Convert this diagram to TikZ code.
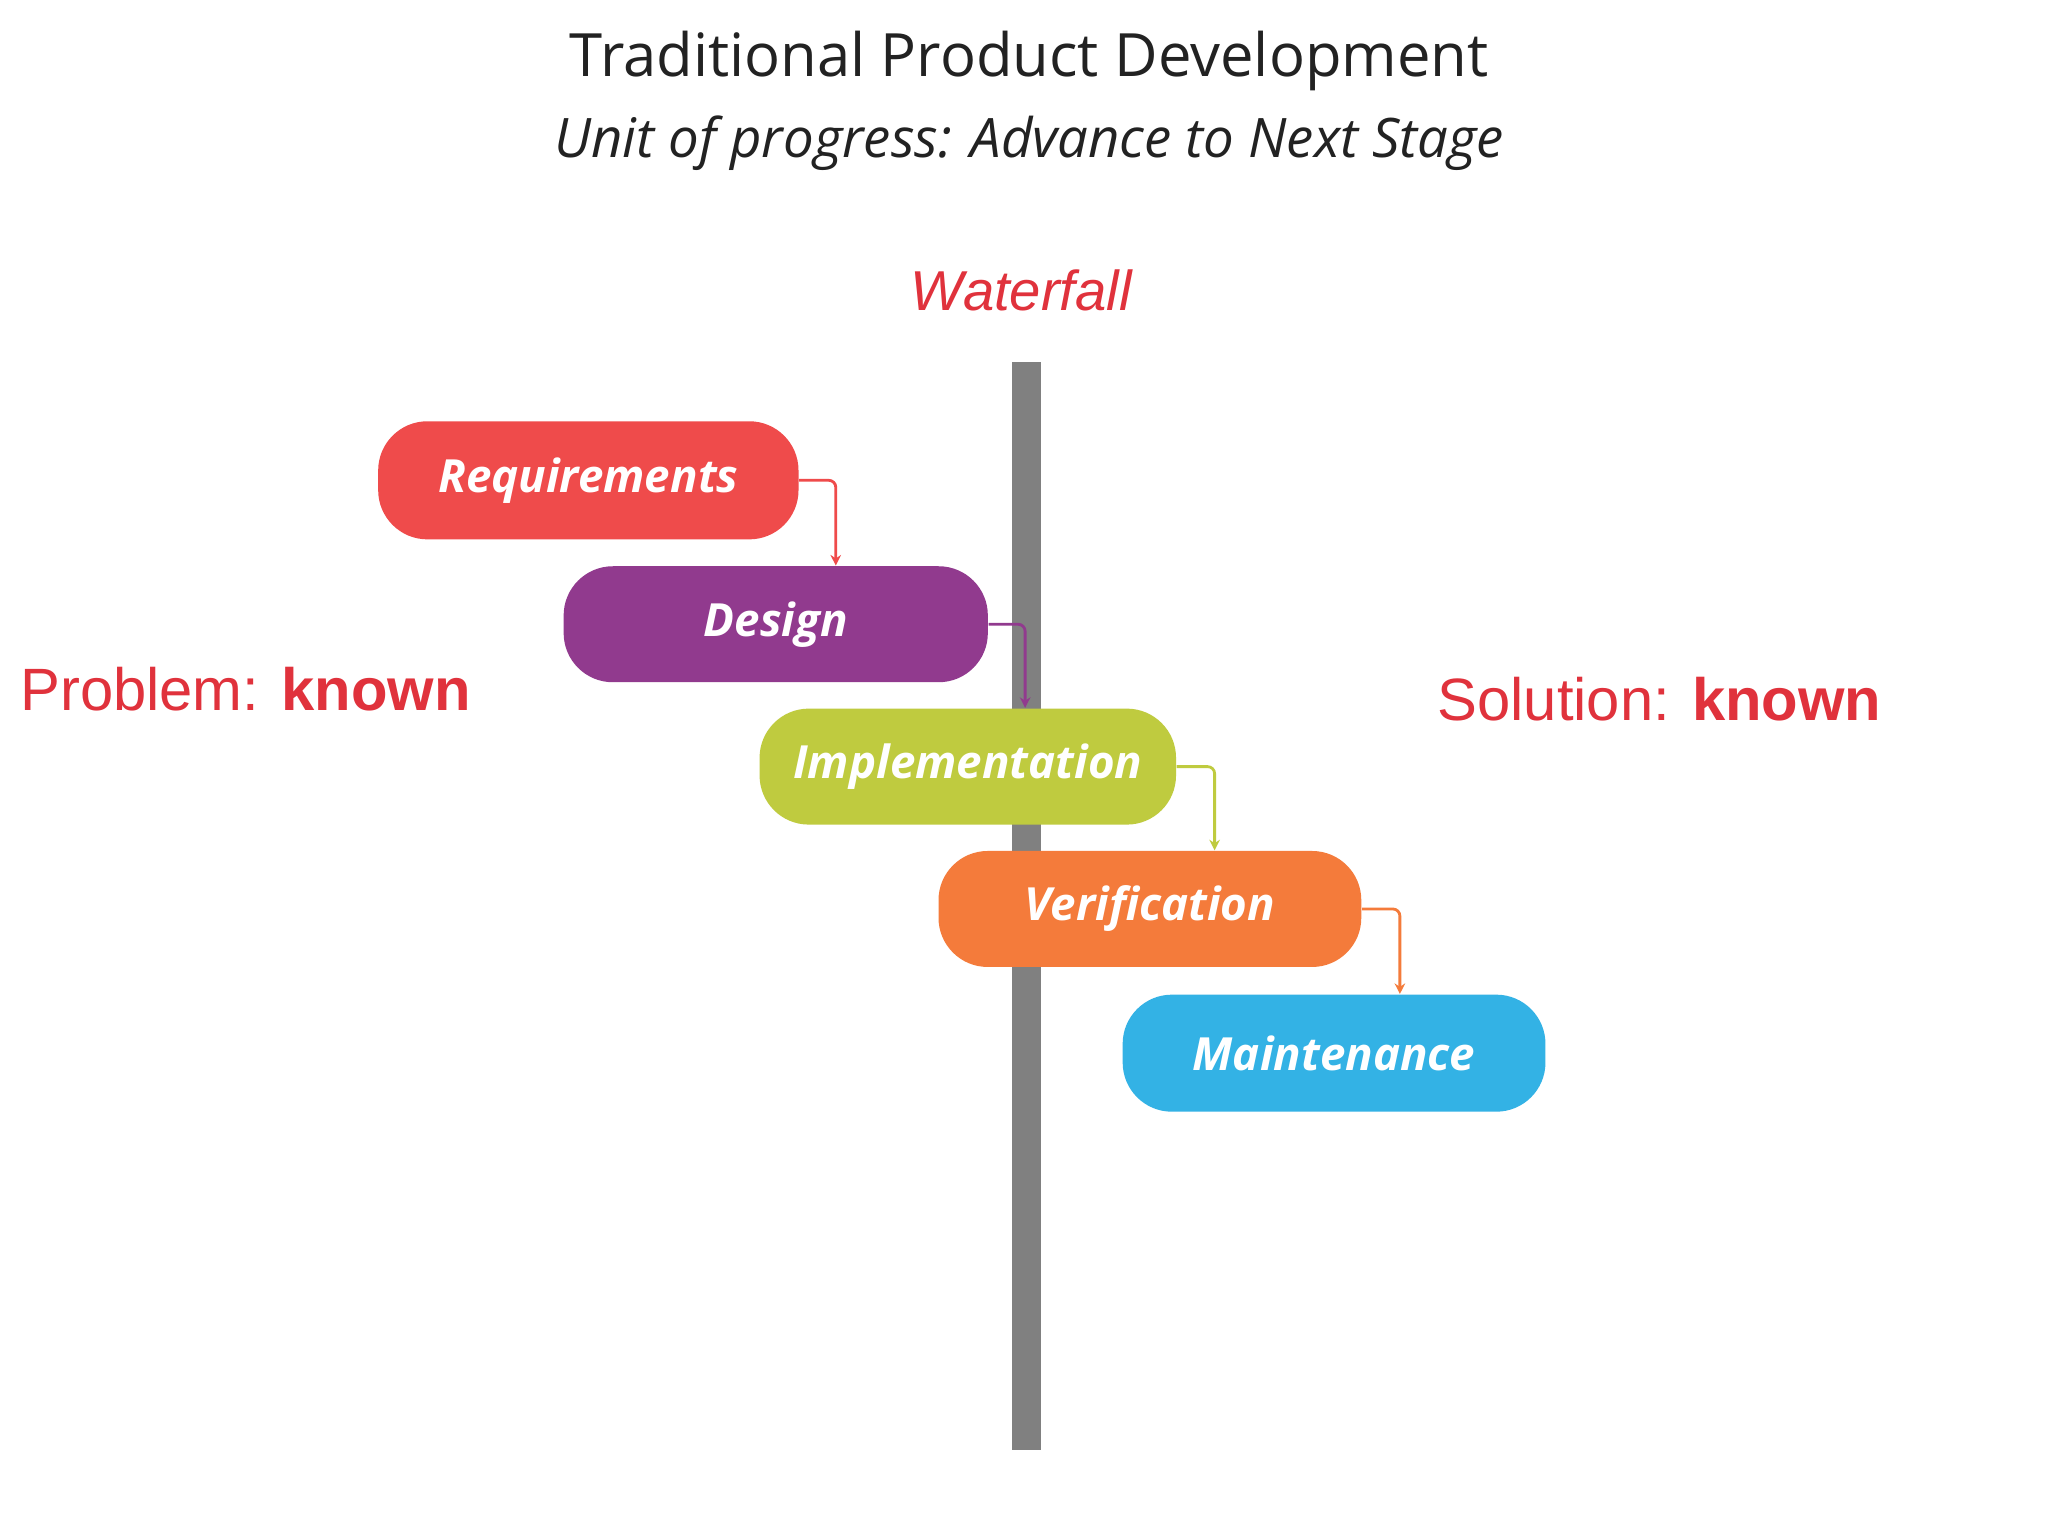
\documentclass[tikz,border=0pt]{standalone}
\usepackage{fontspec}
\setmainfont{Open Sans}
\newfontfamily\arialf{Liberation Sans}
\usetikzlibrary{arrows.meta}
\definecolor{cred}{HTML}{EF4B4B}
\definecolor{cpur}{HTML}{913A8E}
\definecolor{cgrn}{HTML}{BFCB3F}
\definecolor{corg}{HTML}{F47B3B}
\definecolor{cblu}{HTML}{33B2E5}
\definecolor{txtred}{HTML}{E0323C}
\definecolor{tgray}{HTML}{222222}
\tikzset{
  stage/.style={rounded corners=14pt, minimum width=324pt*0.3704, minimum height=90pt*0.3704, text=white, font=\fontsize{13}{15}\selectfont\bfseries\itshape, anchor=north west, inner sep=0pt},
  conn/.style={line width=0.8pt, -{Stealth[length=3pt,width=3pt]}, rounded corners=2pt}
}
\begin{document}
\begin{tikzpicture}[x=0.01306cm,y=-0.01306cm]
\useasboundingbox (0,0) rectangle (1568,1176);
\fill[white] (0,0) rectangle (1568,1176);
\node[text=tgray, font=\fontsize{17}{20}\selectfont] (title) at (788,47) {Traditional Product Development};
\node[text=tgray, font=\fontsize{15.5}{18}\selectfont\itshape] (sub) at (788,110) {Unit of progress: Advance to Next Stage};
\node[text=txtred, font=\arialf\fontsize{16}{19}\selectfont\itshape] (wf) at (782,222) {Waterfall};
\fill[gray!95!black, fill=gray] (775,277) rectangle (797,1110);
\node[stage, fill=cred, minimum width=119.6pt, minimum height=33.6pt] (req) at (289,322) {Requirements};
\node[stage, fill=cpur, minimum width=120.7pt, minimum height=33pt] (des) at (431,433) {Design};
\node[stage, fill=cgrn, minimum width=118.5pt, minimum height=33pt] (imp) at (581,542) {Implementation};
\node[stage, fill=corg, minimum width=120.3pt, minimum height=33pt] (ver) at (718,651) {Verification};
\node[stage, fill=cblu, minimum width=120.3pt, minimum height=33.3pt] (mai) at (859,761) {Maintenance};
\draw[conn, cred] (req.east) -- ++(28,0) coordinate (c1) -- (c1 |- des.north);
\draw[conn, cpur] (des.east) -- ++(28,0) coordinate (c2) -- (c2 |- imp.north);
\draw[conn, cgrn] (imp.east) -- ++(29,0) coordinate (c3) -- (c3 |- ver.north);
\draw[conn, corg] (ver.east) -- ++(29,0) coordinate (c4) -- (c4 |- mai.north);
\node[text=txtred, font=\arialf\fontsize{17}{20}\selectfont, anchor=west, inner sep=0pt] (prob) at (15,528) {Problem: \textbf{known}};
\node[text=txtred, font=\arialf\fontsize{17}{20}\selectfont, anchor=west, inner sep=0pt] (sol) at (1100,535) {Solution: \textbf{known}};
\end{tikzpicture}
\end{document}
